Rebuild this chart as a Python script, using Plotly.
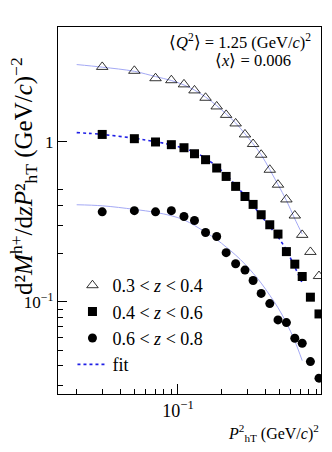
import plotly.graph_objects as go

# P_hT^2 bin centres, (GeV/c)^2
pt2 = [0.03, 0.05, 0.07, 0.09, 0.11, 0.13, 0.155, 0.185, 0.215, 0.25,
       0.29, 0.33, 0.375, 0.43, 0.49, 0.56, 0.64, 0.72, 0.82, 0.94]

# multiplicities per z bin
mult_z03 = [2.93, 2.77, 2.49, 2.42, 2.28, 2.09, 1.88, 1.66, 1.47, 1.30,
            1.11, 0.967, 0.829, 0.668, 0.539, 0.436, 0.346, 0.262, 0.205, 0.145]
mult_z04 = [1.11, 1.044, 0.996, 0.958, 0.917, 0.841, 0.772, 0.685, 0.607, 0.526,
            0.455, 0.406, 0.350, 0.303, 0.265, 0.206, 0.172, 0.144, 0.107, 0.0841]
mult_z06 = [0.365, 0.371, 0.365, 0.371, 0.341, 0.322, 0.271, 0.256, 0.203, 0.173,
            0.158, 0.136, 0.113, 0.0976, 0.0772, 0.0743, 0.0593, 0.0552, 0.0424, 0.0334]

# fit curves
fit_x = [0.02, 0.03, 0.05, 0.07, 0.09, 0.11, 0.13, 0.155, 0.185, 0.215,
         0.25, 0.29, 0.33, 0.375, 0.43, 0.49, 0.56, 0.64, 0.72]
fit_z03 = [3.03, 2.92, 2.75, 2.55, 2.41, 2.26, 2.10, 1.90, 1.68, 1.49,
           1.31, 1.12, 0.97, 0.83, 0.67, 0.54, 0.43, 0.33, 0.265]
fit_z04 = [1.14, 1.11, 1.05, 1.0, 0.955, 0.91, 0.86, 0.79, 0.70, 0.62,
           0.535, 0.46, 0.40, 0.345, 0.295, 0.255, 0.21, 0.165, 0.131]
fit_z06 = [0.404, 0.398, 0.378, 0.362, 0.345, 0.325, 0.30, 0.272, 0.245, 0.22,
           0.196, 0.172, 0.151, 0.131, 0.11, 0.092, 0.074, 0.057, 0.043]

labels = ["0.3 < <i>z</i> < 0.4", "0.4 < <i>z</i> < 0.6", "0.6 < <i>z</i> < 0.8"]

FONT = "Liberation Serif"
light = "#a4a9f5"
dark = "#1f1fe6"

fig = go.Figure()

# fits first so markers sit on top
fig.add_trace(go.Scatter(x=fit_x, y=fit_z03, mode="lines", line_shape="spline",
                         line=dict(color=light, width=1), showlegend=False))
fig.add_trace(go.Scatter(x=fit_x, y=fit_z06, mode="lines", line_shape="spline",
                         line=dict(color=light, width=1), showlegend=False))
fig.add_trace(go.Scatter(x=fit_x, y=fit_z04, mode="lines", line_shape="spline",
                         line=dict(color=dark, width=1.6, dash="dot"),
                         name="fit", legendrank=4))

fig.add_trace(go.Scatter(x=pt2, y=mult_z03, mode="markers", name=labels[0], legendrank=1,
                         marker=dict(symbol="triangle-up-open", size=10, color="black",
                                     line=dict(width=0.8))))
fig.add_trace(go.Scatter(x=pt2, y=mult_z04, mode="markers", name=labels[1], legendrank=2,
                         marker=dict(symbol="square", size=9, color="black")))
fig.add_trace(go.Scatter(x=pt2, y=mult_z06, mode="markers", name=labels[2], legendrank=3,
                         marker=dict(symbol="circle", size=9, color="black")))

x_minor = [0.02, 0.03, 0.04, 0.05, 0.06, 0.07, 0.08, 0.09,
           0.2, 0.3, 0.4, 0.5, 0.6, 0.7, 0.8, 0.9]
y_minor = [0.03, 0.04, 0.05, 0.06, 0.07, 0.08, 0.09,
           0.2, 0.3, 0.4, 0.5]

fig.update_xaxes(type="log", range=[-1.828, -0.013],
                 showline=True, linecolor="black", linewidth=1.2, mirror=True,
                 ticks="inside", ticklen=10, tickcolor="black",
                 tickvals=[0.1], ticktext=["10<sup>−1</sup>"],
                 minor=dict(ticks="inside", ticklen=5, tickcolor="black", tickvals=x_minor),
                 showgrid=False, zeroline=False,
                 tickfont=dict(family=FONT, size=18, color="black"))
fig.update_yaxes(type="log", range=[-1.575, 0.716],
                 showline=True, linecolor="black", linewidth=1.2, mirror=True,
                 ticks="inside", ticklen=9, tickcolor="black",
                 tickvals=[0.1, 1], ticktext=["10<sup>−1</sup>", "1"],
                 minor=dict(ticks="inside", ticklen=5, tickcolor="black", tickvals=y_minor),
                 showgrid=False, zeroline=False,
                 tickfont=dict(family=FONT, size=17, color="black"))

fig.add_annotation(xref="paper", yref="paper", x=0.97, y=0.995, xanchor="right", yanchor="top",
                   showarrow=False,
                   text="⟨<i>Q</i><sup>2</sup>⟩ = 1.25 (GeV/<i>c</i>)<sup>2</sup>",
                   font=dict(family=FONT, size=16.5, color="black"))
fig.add_annotation(xref="paper", yref="paper", x=0.895, y=0.94, xanchor="right", yanchor="top",
                   showarrow=False, text="⟨<i>x</i>⟩ = 0.006",
                   font=dict(family=FONT, size=16.5, color="black"))

fig.add_annotation(xref="paper", yref="paper", x=1.0, y=-0.07, xanchor="right", yanchor="top",
                   showarrow=False,
                   text="<i>P</i><sup>2</sup><sub>hT</sub> (GeV/<i>c</i>)<sup>2</sup>",
                   font=dict(family=FONT, size=16, color="black"))
fig.add_annotation(xref="paper", yref="paper", x=-0.132, y=0.595, xanchor="center", yanchor="middle",
                   textangle=-90, showarrow=False,
                   text="d²<i>M</i><sup>h+</sup>/d<i>zP</i>²<sub>hT</sub> (GeV/<i>c</i>)<sup>−2</sup>",
                   font=dict(family=FONT, size=25, color="black"))

# page body adds an 8px offset, so the figure is 8px smaller than the window
fig.update_layout(
    width=324, height=444,
    margin=dict(l=50, r=11, t=19, b=58),
    paper_bgcolor="white", plot_bgcolor="white",
    legend=dict(x=0.055, y=0.346, xanchor="left", yanchor="top",
                bgcolor="rgba(0,0,0,0)", itemwidth=30,
                font=dict(family=FONT, size=18, color="black"),
                tracegroupgap=0),
)

fig.write_html("out.html")
